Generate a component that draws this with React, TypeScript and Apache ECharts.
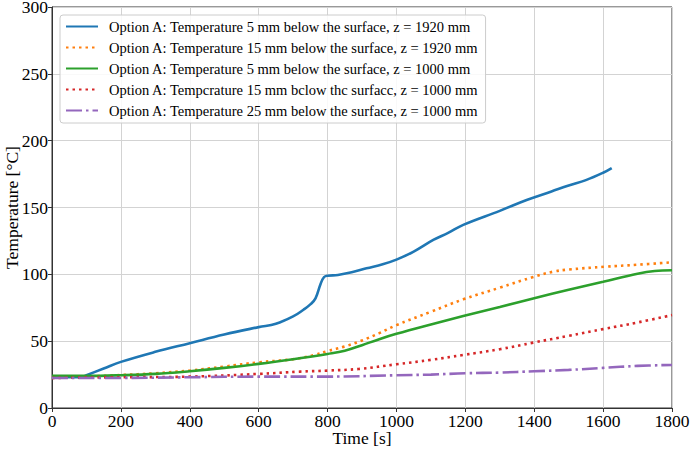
import React, { useEffect, useRef } from "react";
import * as echarts from "echarts";

// Time [s] / temperature [°C] samples for each measurement position
const tA5_1920 = [0, 85, 100, 150, 200, 300, 400, 500, 600, 650, 700, 730, 750, 765, 780, 790, 800, 830, 870, 913, 960, 1000, 1050, 1107, 1150, 1194, 1300, 1378, 1450, 1500, 1550, 1600, 1625];
const vA5_1920 = [23, 23, 24.5, 29.5, 34.5, 42, 48.5, 55, 60.5, 63, 68.5, 73.5, 77.5, 82, 93, 98, 99, 99.5, 101.5, 104.5, 107.5, 111, 117, 125.7, 131, 137, 147.5, 155.6, 162, 166.5, 170.5, 176, 179.5];

const tA15_1920 = [0, 100, 200, 300, 400, 500, 600, 700, 760, 800, 850, 900, 950, 1000, 1100, 1194, 1300, 1397, 1455, 1500, 1606, 1700, 1800];
const vA15_1920 = [22.5, 23.5, 24.7, 26, 28, 31, 34.2, 36.5, 39.5, 42.6, 46, 50.5, 56, 62, 72, 81.3, 90, 98, 102, 103.6, 105.7, 107.2, 109];

const tA5_1000 = [0, 100, 200, 300, 400, 500, 600, 700, 800, 850, 900, 950, 1000, 1100, 1194, 1300, 1397, 1500, 1600, 1700, 1750, 1800];
const vA5_1000 = [24, 24, 24.5, 25.5, 27.5, 30, 33, 36.5, 40.4, 42.8, 47, 51.5, 55.5, 62.5, 68.8, 75.5, 82, 88.5, 94.5, 100.5, 102.5, 103];

const tA15_1000 = [0, 200, 400, 600, 720, 800, 890, 1000, 1100, 1194, 1300, 1397, 1500, 1600, 1700, 1800];
const vA15_1000 = [22.5, 23, 23.5, 25.5, 27.2, 28, 29.2, 32.7, 36, 39.7, 44, 48.9, 54, 59, 64, 69.5];

const tA25_1000 = [0, 200, 400, 600, 800, 1000, 1100, 1200, 1300, 1400, 1500, 1600, 1700, 1800];
const vA25_1000 = [22.5, 22.5, 23, 23.5, 23.5, 24.5, 25, 26, 26.5, 27.5, 28.5, 30, 31.5, 32.2];

const seriesNames = [
  "Option A: Temperature 5 mm below the surface, z = 1920 mm",
  "Option A: Temperature 15 mm below the surface, z = 1920 mm",
  "Option A: Temperature 5 mm below the surface, z = 1000 mm",
  "Option A: Tempcrature 15 mm bclow thc surfacc, z = 1000 mm",
  "Option A: Temperature 25 mm below the surface, z = 1000 mm",
];

const xTicks = [0, 200, 400, 600, 800, 1000, 1200, 1400, 1600, 1800];
const yTicks = [0, 50, 100, 150, 200, 250, 300];

const FONT = "Liberation Serif";

const pairs = (t: number[], v: number[]) => t.map((x, i) => [x, v[i]]);

export default function App() {
  const ref = useRef<HTMLDivElement>(null);

  useEffect(() => {
    if (!ref.current) return;
    const chart = echarts.init(ref.current, undefined, { renderer: "svg" });

    const styles = [
      { color: "#1f77b4", type: "solid" as any },
      { color: "#ff7f0e", type: [2.5, 4] },
      { color: "#2ca02c", type: "solid" as any },
      { color: "#d62728", type: [2.5, 4] },
      { color: "#9467bd", type: [16, 4, 2.5, 4] },
    ];
    const data = [
      pairs(tA5_1920, vA5_1920),
      pairs(tA15_1920, vA15_1920),
      pairs(tA5_1000, vA5_1000),
      pairs(tA15_1000, vA15_1000),
      pairs(tA25_1000, vA25_1000),
    ];

    chart.setOption({
      animation: false,
      backgroundColor: "#ffffff",
      textStyle: { fontFamily: FONT },
      grid: {
        left: 52,
        right: 18,
        top: 7,
        bottom: 43,
        outerBoundsMode: "none",
        containLabel: false,
        show: true,
        borderColor: "#333333",
        borderWidth: 1,
        backgroundColor: "transparent",
      },
      legend: {
        orient: "vertical",
        left: 60,
        top: 15,
        padding: [3, 7, 4, 5],
        itemGap: 4,
        itemWidth: 32,
        itemHeight: 14,
        backgroundColor: "rgba(255,255,255,0.85)",
        borderColor: "#cccccc",
        borderWidth: 1,
        borderRadius: 3,
        itemStyle: { opacity: 0, borderWidth: 0 },
        textStyle: {
          fontFamily: FONT,
          fontSize: 14.5,
          lineHeight: 17,
          color: "#000000",
          padding: [0, 0, 0, 6],
        },
        data: seriesNames,
      },
      xAxis: {
        type: "value",
        min: 0,
        max: 1800,
        interval: 200,
        name: "Time [s]",
        nameLocation: "middle",
        nameGap: 21,
        nameMoveOverlap: false,
        nameTextStyle: { fontFamily: FONT, fontSize: 17.5, lineHeight: 18, color: "#000" },
        axisLine: { show: true, lineStyle: { color: "#333333", width: 1 } },
        axisTick: { show: true, inside: false, length: 4, lineStyle: { color: "#333333" } },
        axisLabel: {
          fontFamily: FONT,
          fontSize: 17.5,
          lineHeight: 14,
          color: "#000",
          margin: 6,
          formatter: (v: number) => (xTicks.includes(v) ? String(v) : ""),
        },
        splitLine: { show: true, lineStyle: { color: "#d3d3d3", width: 1 } },
      },
      yAxis: {
        type: "value",
        min: 0,
        max: 300,
        interval: 50,
        name: "Temperature [°C]",
        nameLocation: "middle",
        nameGap: 31,
        nameMoveOverlap: false,
        nameTextStyle: { fontFamily: FONT, fontSize: 17.5, lineHeight: 18, color: "#000" },
        axisLine: { show: true, lineStyle: { color: "#333333", width: 1 } },
        axisTick: { show: true, inside: false, length: 4, lineStyle: { color: "#333333" } },
        axisLabel: {
          fontFamily: FONT,
          fontSize: 17.5,
          lineHeight: 12,
          color: "#000",
          margin: 4,
          formatter: (v: number) => (yTicks.includes(v) ? String(v) : ""),
        },
        splitLine: { show: true, lineStyle: { color: "#d3d3d3", width: 1 } },
      },
      series: seriesNames.map((name, i) => ({
        name,
        type: "line",
        data: data[i],
        showSymbol: false,
        symbol: "none",
        smooth: 0.4,
        color: styles[i].color,
        lineStyle: {
          color: styles[i].color,
          width: 2.6,
          type: styles[i].type,
          cap: "butt",
        },
      })),
    });

    return () => chart.dispose();
  }, []);

  return (
    <div
      ref={ref}
      style={{ position: "fixed", left: 0, top: 0, width: 690, height: 451 }}
    />
  );
}
